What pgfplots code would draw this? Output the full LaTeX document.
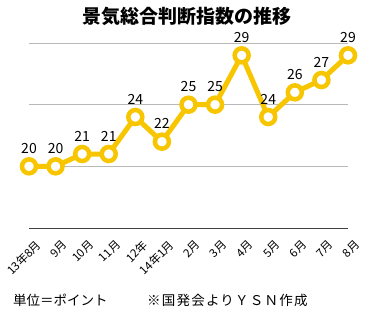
\documentclass[border=0pt]{standalone}
\usepackage{pgfplots}
\pgfplotsset{compat=1.18}
\usepackage{fontspec}
\setmainfont{Noto Sans CJK JP}
\definecolor{gold}{RGB}{247,198,0}
\begin{document}
\begin{tikzpicture}[x=1bp,y=1bp]
\useasboundingbox (0,0) rectangle (372,-321);
\node[font=\fontsize{19bp}{21bp}\selectfont\bfseries] at (187,-16) {景気総合判断指数の推移};
\node[anchor=west, inner sep=0pt, font=\fontsize{13.5bp}{14bp}\selectfont] at (13,-300) {単位＝ポイント};
\node[anchor=west, inner sep=0pt, font=\fontsize{13.5bp}{14bp}\selectfont\addfontfeature{LetterSpace=9}] at (147,-300) {※国発会よりＹＳＮ作成};
\begin{axis}[
  at={(29bp,-228bp)}, anchor=south west,
  scale only axis, width=319bp, height=185bp,
  xmin=0, xmax=12, ymin=15, ymax=30,
  clip=false,
  axis x line*=bottom, axis y line*=left,
  y axis line style={draw=none},
  x axis line style={draw=black!75, line width=0.8bp},
  ytick={15,20,25,30}, yticklabels=\empty, ytick style={draw=none},
  ymajorgrids, grid style={black!28, line width=0.8bp},
  xtick={0,...,12},
  xticklabels={13年8月,9月,10月,11月,12年,14年1月,2月,3月,4月,5月,6月,7月,8月},
  xtick style={draw=none},
  x tick label style={xshift=6bp, yshift=-11bp, rotate=45, anchor=north east, font=\fontsize{11.5bp}{12bp}\selectfont, inner sep=0bp},
  /pgf/number format/assume math mode=true,
  nodes near coords,
  every node near coord/.append style={anchor=center, yshift=18bp, font=\fontsize{14bp}{15bp}\selectfont, text=black},
]
\addplot[color=gold, line width=5bp, mark=*, mark size=7bp,
  mark options={fill=white, draw=gold, line width=4.5bp}]
  coordinates {(0,20)(1,20)(2,21)(3,21)(4,24)(5,22)(6,25)(7,25)(8,29)(9,24)(10,26)(11,27)(12,29)};
\end{axis}
\end{tikzpicture}
\end{document}
